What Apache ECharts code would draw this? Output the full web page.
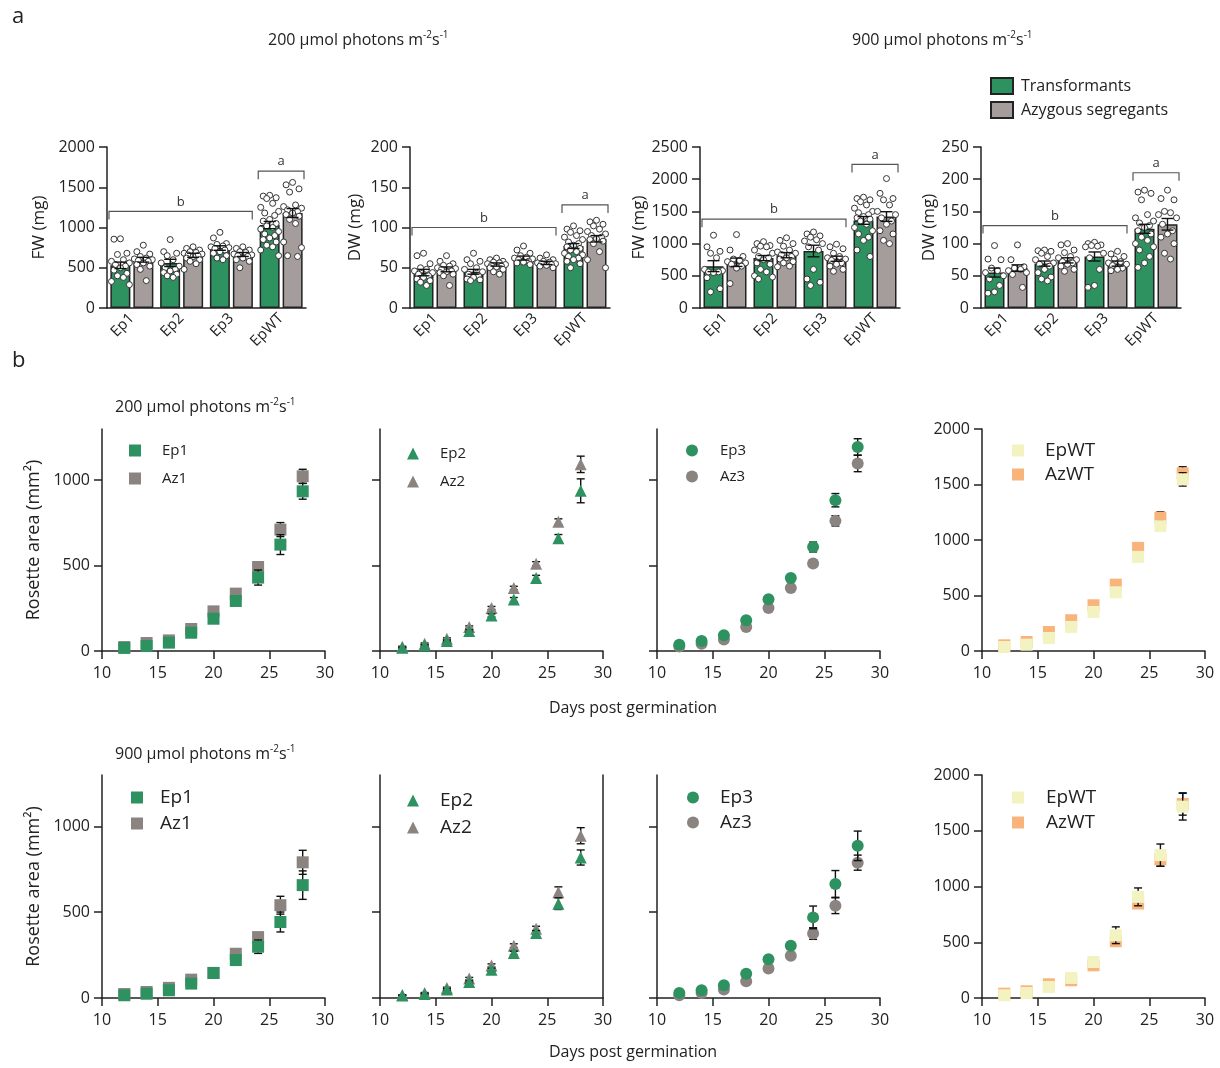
<!DOCTYPE html>
<html>
<head>
<meta charset="utf-8" />
<title>Biomass and rosette growth</title>
<script src="https://cdn.jsdelivr.net/npm/echarts@6/dist/echarts.min.js"></script>
<style>html, body { margin: 0; padding: 0; background: #fff; }</style>
</head>
<body>
<div id="main" style="width: 1220px; height: 1068px"></div>
<script>
var FONT = 'Open Sans';
var INK = '#222';
var GREEN = '#2e9160', TAUPE = '#a59d9b', GREY = '#8b8380', PALE = '#f3f3c1', ORANGE = '#f8b47b';

// ---- panel a : biomass ----
var groups = ['Ep1', 'Ep2', 'Ep3', 'EpWT'];
var barNames = ['Transformants', 'Azygous segregants'];
var bracketLabels = ['b', 'a'];

var fw200Mean = [530, 560, 745, 1030], fw200Sem = [40, 45, 28, 45];
var fw200AzMean = [600, 655, 665, 1180], fw200AzSem = [30, 25, 25, 55];
var fw200Dots = [
  [860, 855, 680, 665, 600, 580, 560, 540, 520, 500, 470, 430, 400, 380, 330, 290],
  [850, 700, 680, 650, 600, 560, 520, 500, 480, 460, 440, 420, 400, 380],
  [940, 870, 800, 790, 770, 760, 750, 740, 720, 700, 680, 650, 620, 600],
  [1400, 1390, 1370, 1360, 1300, 1250, 1200, 1180, 1150, 1100, 1080, 1050, 1020, 1000, 980, 950, 920, 900, 870, 850, 820, 780, 760, 720, 650]
];
var fw200AzDots = [
  [780, 700, 670, 640, 620, 610, 600, 590, 580, 560, 540, 520, 480, 340],
  [760, 740, 720, 700, 690, 680, 670, 660, 650, 640, 620, 600, 580, 550, 480],
  [760, 740, 720, 700, 690, 670, 660, 650, 640, 620, 600, 580, 500],
  [1560, 1530, 1480, 1440, 1280, 1260, 1240, 1220, 1200, 1180, 1160, 1140, 1100, 1050, 820, 750, 650, 640]
];
var fw200Brackets = [1200, 1700];

var dw200Mean = [44, 45, 62, 77], dw200Sem = [4, 3, 2.5, 3];
var dw200AzMean = [48, 54, 56, 86], dw200AzSem = [3, 2, 2, 4];
var dw200Dots = [
  [68, 65, 55, 50, 48, 46, 44, 42, 40, 38, 36, 34, 32, 28],
  [68, 60, 58, 55, 50, 48, 45, 42, 40, 38, 36, 35, 34],
  [77, 72, 68, 65, 63, 62, 61, 60, 58, 57, 56, 54],
  [102, 98, 96, 94, 90, 88, 85, 82, 80, 78, 76, 74, 72, 70, 68, 66, 64, 62, 60, 58, 55, 50]
];
var dw200AzDots = [
  [65, 58, 55, 53, 52, 50, 49, 48, 46, 45, 44, 42, 40, 28],
  [62, 60, 58, 57, 56, 55, 54, 53, 52, 51, 50, 48, 45, 42],
  [66, 62, 60, 58, 57, 56, 55, 55, 54, 53, 52, 50],
  [109, 107, 104, 102, 98, 95, 92, 90, 88, 86, 85, 83, 80, 70, 60, 50]
];
var dw200Brackets = [100, 128];

var fw900Mean = [650, 775, 885, 1360], fw900Sem = [85, 40, 90, 60];
var fw900AzMean = [710, 820, 765, 1420], fw900AzSem = [65, 40, 40, 75];
var fw900Dots = [
  [1130, 950, 880, 850, 780, 600, 580, 560, 560, 550, 470, 300, 250],
  [1030, 1000, 970, 960, 950, 900, 850, 800, 780, 750, 700, 680, 600, 560, 500, 480, 450],
  [1180, 1150, 1120, 1100, 1060, 1040, 1000, 950, 900, 600, 450, 400, 350],
  [1720, 1700, 1680, 1650, 1600, 1550, 1500, 1480, 1450, 1420, 1400, 1380, 1350, 1300, 1250, 1200, 1150, 1100, 1050, 900, 800]
];
var fw900AzDots = [
  [1140, 900, 800, 760, 740, 720, 700, 680, 650, 620, 380],
  [1090, 1050, 1000, 960, 900, 870, 850, 830, 800, 780, 760, 720, 700, 650, 640],
  [990, 950, 920, 850, 800, 780, 760, 740, 700, 680, 650, 600, 570],
  [2010, 1780, 1700, 1680, 1600, 1500, 1450, 1400, 1350, 1300, 1200, 1150, 1050, 1000]
];
var fw900Brackets = [1380, 2230];

var dw900Mean = [55, 69, 80, 123], dw900Sem = [7, 4, 7, 7];
var dw900AzMean = [62, 74, 69, 130], dw900AzSem = [5, 4, 4, 9];
var dw900Dots = [
  [97, 76, 75, 62, 58, 55, 50, 45, 35, 25, 23],
  [90, 89, 88, 85, 80, 75, 70, 68, 65, 60, 55, 48, 45, 42],
  [102, 100, 98, 97, 96, 95, 85, 78, 60, 35, 32],
  [183, 180, 178, 168, 145, 140, 135, 132, 128, 125, 120, 115, 110, 105, 100, 95, 90, 80, 70, 63]
];
var dw900AzDots = [
  [98, 75, 64, 62, 60, 58, 55, 52, 32],
  [100, 98, 90, 86, 80, 78, 75, 72, 70, 68, 65, 60, 57],
  [88, 84, 80, 76, 72, 70, 68, 66, 62, 60, 58],
  [183, 170, 168, 150, 148, 145, 140, 130, 120, 115, 110, 100, 85, 76]
];
var dw900Brackets = [128, 210];

// ---- panel b : rosette area ----
var days = [12, 14, 16, 18, 20, 22, 24, 26, 28];

var ep1At200 = [18, 29, 49, 107, 189, 293, 430, 623, 935], ep1At200Se = [4, 5, 6, 8, 10, 14, 44, 58, 46];
var az1At200 = [23, 47, 62, 129, 232, 336, 492, 711, 1023], az1At200Se = [4, 5, 6, 8, 10, 12, 28, 41, 41];
var ep2At200 = [19, 33, 58, 117, 208, 301, 427, 660, 938], ep2At200Se = [3, 4, 5, 7, 9, 12, 16, 22, 70];
var az2At200 = [25, 43, 72, 140, 252, 369, 511, 757, 1093], az2At200Se = [3, 4, 5, 7, 9, 10, 12, 17, 48];
var ep3At200 = [37, 59, 92, 180, 303, 428, 609, 883, 1195], ep3At200Se = [3, 4, 6, 8, 10, 12, 29, 39, 48];
var az3At200 = [27, 43, 68, 141, 252, 369, 512, 762, 1098], az3At200Se = [3, 4, 5, 7, 9, 11, 14, 30, 48];
var epwtAt200 = [36, 57, 117, 217, 352, 529, 848, 1125, 1546], epwtAt200Se = [4, 5, 8, 10, 12, 16, 30, 45, 60];
var azwtAt200 = [51, 81, 171, 277, 412, 598, 929, 1200, 1600], azwtAt200Se = [4, 5, 8, 10, 12, 15, 30, 53, 60];

var ep1At900 = [16, 25, 45, 84, 146, 221, 299, 443, 658], ep1At900Se = [3, 4, 5, 7, 9, 15, 39, 58, 83];
var az1At900 = [23, 35, 59, 107, 146, 258, 355, 541, 791], az1At900Se = [3, 4, 5, 7, 9, 14, 20, 52, 70];
var ep2At900 = [14, 23, 49, 93, 165, 262, 379, 550, 819], ep2At900Se = [2, 3, 5, 7, 9, 11, 14, 34, 44];
var az2At900 = [17, 29, 58, 113, 190, 305, 404, 617, 946], az2At900Se = [2, 3, 5, 7, 9, 11, 14, 31, 47];
var ep3At900 = [29, 45, 74, 142, 226, 304, 470, 665, 887], ep3At900Se = [3, 4, 6, 8, 15, 20, 66, 78, 86];
var az3At900 = [16, 29, 49, 97, 172, 246, 376, 538, 789], az3At900Se = [3, 4, 5, 7, 9, 12, 34, 46, 44];
var epwtAt900 = [24, 45, 99, 180, 323, 563, 907, 1281, 1716], epwtAt900Se = [4, 6, 8, 12, 20, 75, 80, 100, 120];
var azwtAt900 = [39, 60, 123, 159, 293, 509, 847, 1243, 1740], azwtAt900Se = [4, 6, 8, 12, 20, 20, 40, 60, 100];

var areaTicks = [0, 500, 1000];
var wtTicks = [0, 500, 1000, 1500, 2000];

// ---- layout ----
var barPanels = [
  { box: [107, 147, 199, 161], max: 2000, step: 500, name: 'FW (mg)', gap: 59,
    tr: [fw200Mean, fw200Sem, fw200Dots], az: [fw200AzMean, fw200AzSem, fw200AzDots], br: fw200Brackets },
  { box: [410, 147, 200, 161], max: 200, step: 50, name: 'DW (mg)', gap: 46,
    tr: [dw200Mean, dw200Sem, dw200Dots], az: [dw200AzMean, dw200AzSem, dw200AzDots], br: dw200Brackets },
  { box: [700, 147, 200, 161], max: 2500, step: 500, name: 'FW (mg)', gap: 50,
    tr: [fw900Mean, fw900Sem, fw900Dots], az: [fw900AzMean, fw900AzSem, fw900AzDots], br: fw900Brackets },
  { box: [981, 147, 200, 161], max: 250, step: 50, name: 'DW (mg)', gap: 40,
    tr: [dw900Mean, dw900Sem, dw900Dots], az: [dw900AzMean, dw900AzSem, dw900AzDots], br: dw900Brackets }
];

var growthPanels = [
  { box: [102, 429, 223, 222], max: 1300, ticks: areaTicks, labels: true, title: true, symbol: 'rect',
    ep: ['Ep1', ep1At200, ep1At200Se], az: ['Az1', az1At200, az1At200Se], col: [GREEN, GREY], lg: [124, 438, 15, 16, 13] },
  { box: [380, 429, 223, 222], max: 1300, ticks: areaTicks, labels: false, symbol: 'triangle',
    ep: ['Ep2', ep2At200, ep2At200Se], az: ['Az2', az2At200, az2At200Se], col: [GREEN, GREY], lg: [402, 441, 15, 16, 13] },
  { box: [657, 429, 223, 222], max: 1300, ticks: areaTicks, labels: false, symbol: 'circle',
    ep: ['Ep3', ep3At200, ep3At200Se], az: ['Az3', az3At200, az3At200Se], col: [GREEN, GREY], lg: [681, 438, 15, 17, 11] },
  { box: [982, 429, 223, 222], max: 2000, ticks: wtTicks, labels: true, symbol: 'rect',
    ep: ['EpWT', epwtAt200, epwtAt200Se], az: ['AzWT', azwtAt200, azwtAt200Se], col: [PALE, ORANGE], lg: [1007, 436, 19, 16, 5] },
  { box: [102, 775, 223, 223], max: 1300, ticks: areaTicks, labels: true, title: true, symbol: 'rect',
    ep: ['Ep1', ep1At900, ep1At900Se], az: ['Az1', az1At900, az1At900Se], col: [GREEN, GREY], lg: [126, 783, 19, 12, 7] },
  { box: [380, 775, 223, 223], max: 1300, ticks: areaTicks, labels: false, frame: true, symbol: 'triangle',
    ep: ['Ep2', ep2At900, ep2At900Se], az: ['Az2', az2At900, az2At900Se], col: [GREEN, GREY], lg: [402, 786, 19, 16, 8] },
  { box: [657, 775, 223, 223], max: 1300, ticks: areaTicks, labels: false, symbol: 'circle',
    ep: ['Ep3', ep3At900, ep3At900Se], az: ['Az3', az3At900, az3At900Se], col: [GREEN, GREY], lg: [682, 783, 19, 16, 6] },
  { box: [982, 775, 223, 223], max: 2000, ticks: wtTicks, labels: true, symbol: 'rect',
    ep: ['EpWT', epwtAt900, epwtAt900Se], az: ['AzWT', azwtAt900, azwtAt900Se], col: [PALE, ORANGE], lg: [1007, 783, 19, 17, 6] }
];

// horizontal spread of single plants inside a bar
var spread = [0, -0.13, 0.13, -0.06, 0.06, -0.18, 0.18, -0.1, 0.1];

function plain(v) { return String(v); }

function errorBars(cap) {
  return function (params, api) {
    var x = api.value(0), m = api.value(1), e = api.value(2);
    var hi = api.coord([x, m + e]);
    var lo = api.coord([x, m - e]);
    var st = { stroke: '#111', lineWidth: 1.4 };
    return {
      type: 'group',
      children: [
        { type: 'line', shape: { x1: hi[0], y1: hi[1], x2: lo[0], y2: lo[1] }, style: st },
        { type: 'line', shape: { x1: hi[0] - cap, y1: hi[1], x2: hi[0] + cap, y2: hi[1] }, style: st },
        { type: 'line', shape: { x1: lo[0] - cap, y1: lo[1], x2: lo[0] + cap, y2: lo[1] }, style: st }
      ]
    };
  };
}

function bracketItem(params, api) {
  var p0 = api.coord([api.value(0), api.value(2)]);
  var p1 = api.coord([api.value(1), api.value(2)]);
  return {
    type: 'group',
    children: [
      { type: 'polyline',
        shape: { points: [[p0[0], p0[1] + 8], [p0[0], p0[1]], [p1[0], p1[1]], [p1[0], p1[1] + 8]] },
        style: { stroke: '#555', lineWidth: 1.2, fill: 'none' } },
      { type: 'text', x: (p0[0] + p1[0]) / 2, y: p0[1] - 3,
        style: { text: bracketLabels[params.dataIndex], fill: '#333', font: '13px "Open Sans"',
          align: 'center', verticalAlign: 'bottom', textAlign: 'center', textVerticalAlign: 'bottom' } }
    ]
  };
}

var axisLineStyle = { color: INK, width: 1.5 };
var grids = [], xAxes = [], yAxes = [], series = [], legends = [];

barPanels.forEach(function (p, k) {
  grids.push({ left: p.box[0], top: p.box[1], width: p.box[2], height: p.box[3] });
  var cat = xAxes.length;
  xAxes.push({
    type: 'category', gridIndex: k, data: groups,
    axisTick: { show: false },
    axisLine: { lineStyle: axisLineStyle },
    axisLabel: { rotate: 45, margin: 8, fontSize: 15, color: INK, fontFamily: FONT }
  });
  var val = xAxes.length;
  xAxes.push({ type: 'value', gridIndex: k, min: 0, max: groups.length, show: false });
  var yi = yAxes.length;
  yAxes.push({
    type: 'value', gridIndex: k, min: 0, max: p.max, interval: p.step,
    name: p.name, nameLocation: 'middle', nameGap: p.gap,
    nameTextStyle: { fontSize: 17, color: INK, fontFamily: FONT },
    axisLine: { show: true, lineStyle: axisLineStyle },
    axisTick: { show: true, length: 8, lineStyle: axisLineStyle },
    axisLabel: { margin: 12, fontSize: 16, color: INK, fontFamily: FONT, formatter: plain },
    splitLine: { show: false }
  });
  [p.tr, p.az].forEach(function (s, j) {
    var shift = j ? 0.23 : -0.23;
    series.push({
      type: 'bar', name: barNames[j], xAxisIndex: cat, yAxisIndex: yi, data: s[0],
      barWidth: 20, barGap: '15%', z: 2,
      itemStyle: { color: j ? TAUPE : GREEN, borderColor: INK, borderWidth: 1.5 }
    });
    var dots = [];
    s[2].forEach(function (vals, i) {
      vals.forEach(function (v, n) { dots.push([i + 0.5 + shift + spread[n % spread.length], v]); });
    });
    series.push({
      type: 'scatter', xAxisIndex: val, yAxisIndex: yi, data: dots, symbol: 'circle', symbolSize: 6, z: 3,
      itemStyle: { color: '#fff', borderColor: '#333', borderWidth: 1, opacity: 1 }, silent: true
    });
    series.push({
      type: 'custom', xAxisIndex: val, yAxisIndex: yi, z: 4, silent: true,
      renderItem: errorBars(6),
      data: s[0].map(function (m, i) { return [i + 0.5 + shift, m, s[1][i]]; })
    });
  });
  series.push({
    type: 'custom', xAxisIndex: val, yAxisIndex: yi, z: 5, silent: true,
    renderItem: bracketItem, encode: { x: [0, 1], y: 2 },
    data: [[0.04, groups.length - 1 - 0.08, p.br[0]], [groups.length - 1 + 0.04, groups.length - 0.04, p.br[1]]]
  });
});

legends.push({
  left: 985, top: 72, orient: 'vertical', itemWidth: 22, itemHeight: 16, itemGap: 6, selectedMode: false,
  icon: 'rect', data: barNames,
  formatter: function (n) { return '{p| }' + n; },
  textStyle: { fontSize: 16, color: INK, fontFamily: FONT, lineHeight: 16, rich: { p: { width: 3 } } }
});

growthPanels.forEach(function (p) {
  var k = grids.length;
  grids.push({ left: p.box[0], top: p.box[1], width: p.box[2], height: p.box[3] });
  var xi = xAxes.length;
  xAxes.push({
    type: 'value', gridIndex: k, min: 10, max: 30, interval: 5,
    axisLine: { lineStyle: axisLineStyle },
    axisTick: { show: true, length: 8, lineStyle: axisLineStyle },
    axisLabel: { margin: 14, fontSize: 16, color: INK, fontFamily: FONT, formatter: plain },
    splitLine: { show: false }
  });
  var yi = yAxes.length;
  yAxes.push({
    type: 'value', gridIndex: k, min: 0, max: p.max,
    name: p.title ? 'Rosette area (mm²)' : '', nameLocation: 'middle', nameGap: 59,
    nameTextStyle: { fontSize: 18, color: INK, fontFamily: FONT },
    axisLine: { show: true, onZero: false, lineStyle: axisLineStyle },
    axisTick: { show: true, length: 8, lineStyle: axisLineStyle, customValues: p.ticks },
    axisLabel: { show: p.labels, margin: 12, fontSize: 16, color: INK, fontFamily: FONT, formatter: plain, customValues: p.ticks },
    splitLine: { show: false }
  });
  if (p.frame) {
    yAxes.push({
      type: 'value', gridIndex: k, position: 'right', min: 0, max: p.max,
      axisLine: { show: true, lineStyle: axisLineStyle },
      axisTick: { show: false }, axisLabel: { show: false }, splitLine: { show: false }
    });
  }
  var order = [[p.az, p.col[1], 2], [p.ep, p.col[0], 4]];
  order.forEach(function (o) {
    var s = o[0];
    series.push({
      type: 'custom', xAxisIndex: xi, yAxisIndex: yi, z: o[2], silent: true,
      renderItem: errorBars(4),
      data: days.map(function (d, i) { return [d, s[1][i], s[2][i]]; })
    });
    series.push({
      type: 'scatter', name: s[0], xAxisIndex: xi, yAxisIndex: yi, z: o[2] + 1,
      symbol: p.symbol, symbolSize: 12,
      itemStyle: { color: o[1], opacity: 1 },
      data: days.map(function (d, i) { return [d, s[1][i]]; })
    });
  });
  legends.push({
    left: p.lg[0], top: p.lg[1], orient: 'vertical', itemWidth: 12, itemHeight: 12, itemGap: p.lg[4],
    selectedMode: false, data: [p.ep[0], p.az[0]],
    formatter: function (n) { return '{p| }' + n; },
    textStyle: { fontSize: p.lg[2], color: INK, fontFamily: FONT, lineHeight: 14, rich: { p: { width: p.lg[3] } } }
  });
});

var supText = { fontSize: 16, color: INK, fontFamily: FONT, lineHeight: 20,
  rich: { sup: { fontSize: 10, color: INK, fontFamily: FONT, verticalAlign: 'top', lineHeight: 12 } } };
function label(text, left, top, style) {
  return { text: text, left: left, top: top, padding: 0, textStyle: style };
}
var titles = [
  label('a', 12, 6, { fontSize: 22, color: INK, fontFamily: FONT }),
  label('b', 12, 350, { fontSize: 22, color: INK, fontFamily: FONT }),
  label('200 µmol photons m{sup|-2}s{sup|-1}', 268, 30, supText),
  label('900 µmol photons m{sup|-2}s{sup|-1}', 852, 30, supText),
  label('200 µmol photons m{sup|-2}s{sup|-1}', 115, 397, supText),
  label('900 µmol photons m{sup|-2}s{sup|-1}', 115, 744, supText),
  label('Days post germination', 549, 700, { fontSize: 16, color: INK, fontFamily: FONT }),
  label('Days post germination', 549, 1044, { fontSize: 16, color: INK, fontFamily: FONT })
];
titles.forEach(function (t) { t.textStyle.fontWeight = 'normal'; });

var chart = echarts.init(document.getElementById('main'), null, { renderer: 'canvas' });
chart.setOption({
  animation: false,
  backgroundColor: '#fff',
  title: titles,
  legend: legends,
  grid: grids,
  xAxis: xAxes,
  yAxis: yAxes,
  series: series
});
</script>
</body>
</html>
